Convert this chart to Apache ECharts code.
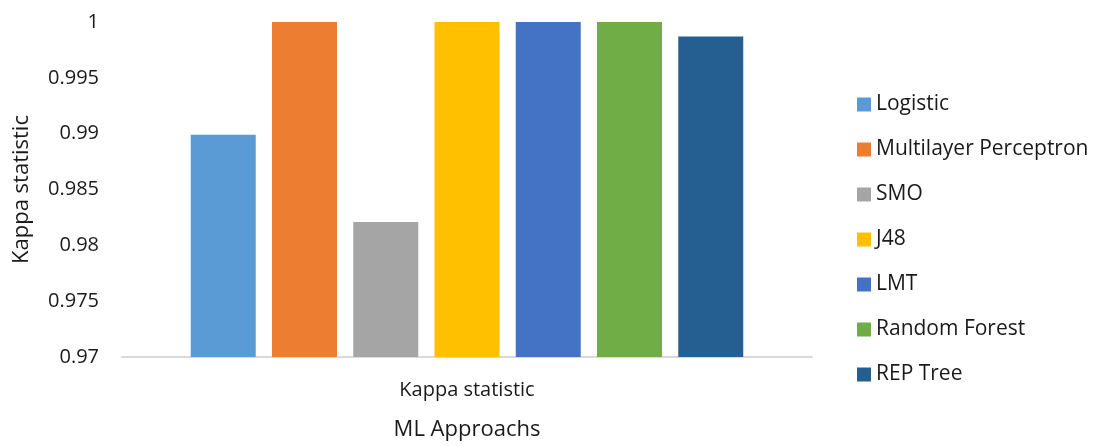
<!DOCTYPE html>
<html><head><meta charset="utf-8">
<script src="https://cdn.jsdelivr.net/npm/echarts@6/dist/echarts.min.js"></script>
<style>html,body{margin:0;padding:0;background:#fff}#c{width:1094px;height:446px}</style>
</head><body><div id="c"></div>
<script>
const categories = ['Kappa statistic'];
const seriesNames = ['Logistic','Multilayer Perceptron','SMO','J48','LMT','Random Forest','REP Tree'];
const seriesValues = [0.9899, 1.0, 0.9821, 1.0, 1.0, 1.0, 0.9987];
const colors = ['#5B9BD5','#ED7D31','#A5A5A5','#FFC000','#4472C4','#70AD47','#255E91'];
const yTicks = [0.97, 0.975, 0.98, 0.985, 0.99, 0.995, 1];

const font = 'Open Sans';
const chart = echarts.init(document.getElementById('c'));
chart.setOption({
  animation: false,
  textStyle: {fontFamily: font},
  grid: {left: 122, right: 282, top: 22, bottom: 84},
  legend: {
    orient: 'vertical', left: 852, top: 89,
    itemWidth: 14, itemHeight: 14, itemGap: 24,
    icon: 'rect',
    textStyle: {fontSize: 21, color: '#1a1a1a', fontFamily: font},
    data: seriesNames
  },
  xAxis: {
    type: 'category', data: categories,
    name: 'ML Approachs', nameLocation: 'middle', nameGap: 62,
    nameTextStyle: {fontSize: 22, color: '#1a1a1a'},
    axisLine: {lineStyle: {color: '#d9d9d9', width: 2}},
    axisTick: {show: false},
    axisLabel: {fontSize: 20, color: '#1a1a1a', margin: 23}
  },
  yAxis: {
    type: 'value', min: yTicks[0], max: yTicks[yTicks.length-1], interval: 0.005,
    name: 'Kappa statistic', nameLocation: 'middle', nameGap: 89, nameRotate: 90,
    nameTextStyle: {fontSize: 22, color: '#1a1a1a'},
    axisLine: {show: false}, axisTick: {show: false},
    splitLine: {show: false},
    axisLabel: {fontSize: 20, color: '#1a1a1a', margin: 23}
  },
  series: seriesNames.map((n, i) => ({
    name: n, type: 'bar', data: [seriesValues[i]],
    barWidth: 65, barGap: '25%',
    itemStyle: {color: colors[i]}
  }))
});
</script></body></html>
